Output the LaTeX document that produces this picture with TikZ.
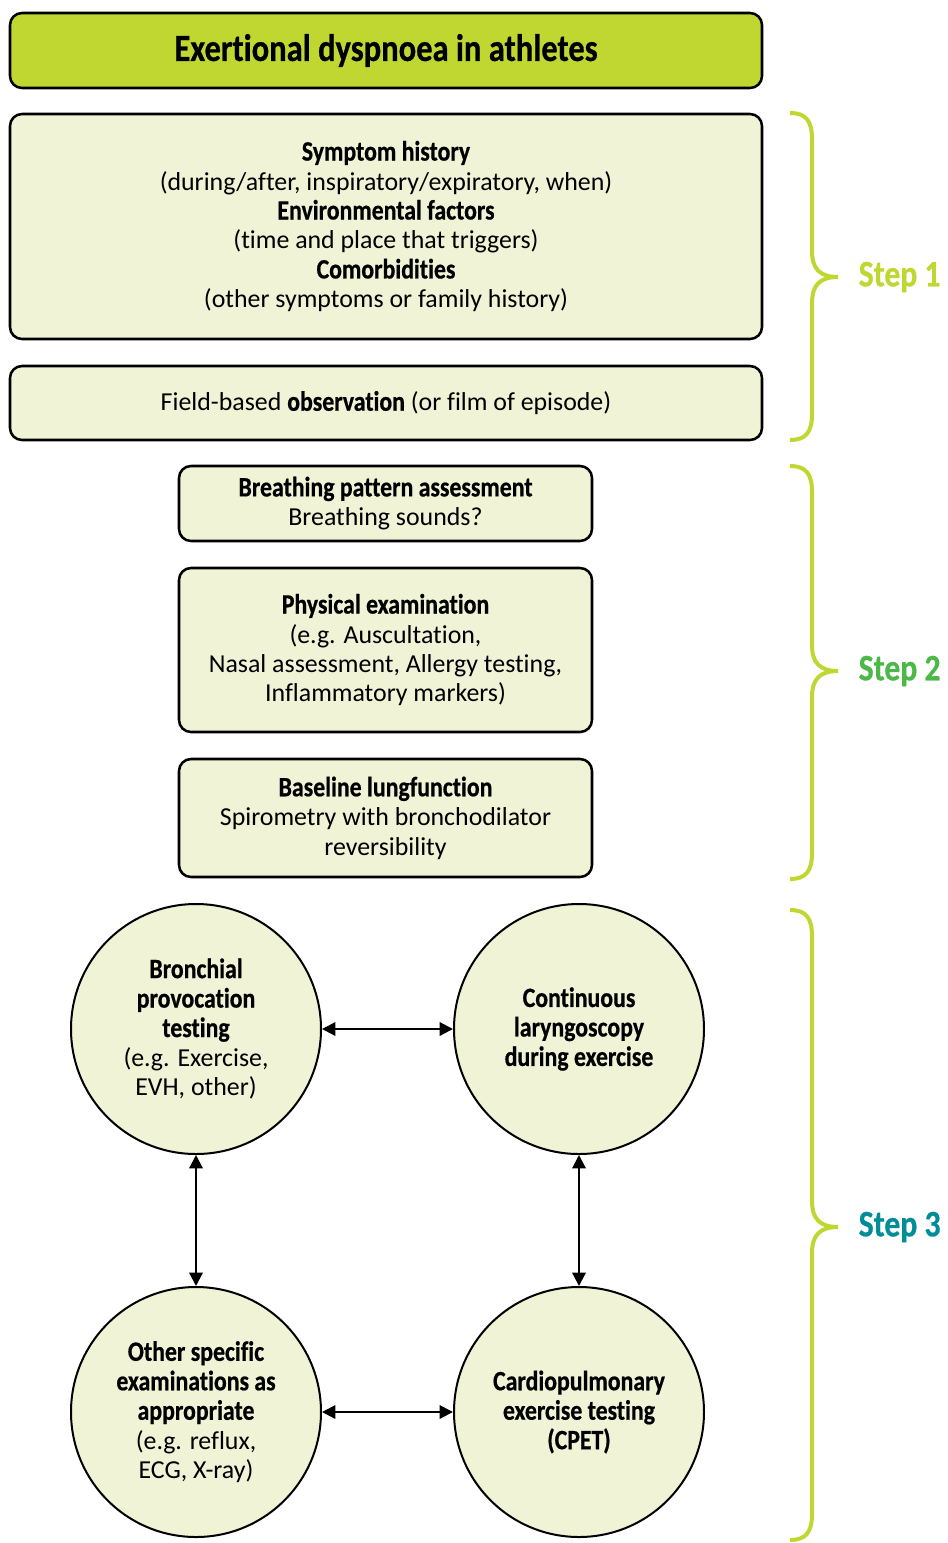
\documentclass[tikz,border=0pt]{standalone}
\usepackage{fontspec}
\setmainfont{Carlito}[Ligatures=NoCommon]
\newfontfamily\cbf{Carlito}[FakeStretch=0.85,Ligatures=NoCommon,BoldFeatures={FakeBold=0.6}]
\usetikzlibrary{arrows.meta}
\definecolor{lime}{HTML}{BFD730}
\definecolor{pale}{HTML}{F0F3D6}
\definecolor{stepgreen}{HTML}{4CB848}
\definecolor{stepteal}{HTML}{008D97}
\newcommand\hb[1]{{\fontsize{21}{22.1}\cbf\bfseries #1}}
\newcommand\stepbrace[3]{%
  \draw[lime, line width=3pt, line cap=butt]
    (790,#1) .. controls (806,#1) and (812,#1+8) .. (812,#1+26)
    -- (812,#2-26) .. controls (812,#2-8) and (820,#2) .. (838,#2)
    .. controls (820,#2) and (812,#2+8) .. (812,#2+26)
    -- (812,#3-26) .. controls (812,#3-8) and (806,#3) .. (790,#3);}
\begin{document}
\begin{tikzpicture}[x=0.75pt,y=-0.75pt,
  box/.style={draw=black, line width=1.9pt, fill=pale, rounded corners=9pt,
    align=center, inner sep=0pt, font=\fontsize{19.4}{22.1}\selectfont},
  circ/.style={circle, draw=black, line width=1.5pt, fill=pale, minimum size=187.5pt,
    inner sep=0pt, align=center, font=\fontsize{19.4}{22.1}\selectfont},
  steplabel/.style={anchor=west, font=\fontsize{28}{30}\selectfont\cbf\bfseries},
  arr/.style={line width=1.6pt, {Triangle[length=10pt,width=10pt]}-{Triangle[length=10pt,width=10pt]}}]
\useasboundingbox (0,0) rectangle (947,1543);

\node[box, fill=lime, minimum width=564pt, minimum height=56.25pt] (title) at (386,50.5)
  {{\fontsize{28.7}{30}\cbf\bfseries Exertional dyspnoea in athletes}};

\node[box, minimum width=564pt, minimum height=168.75pt] (hist) at (386,226.5)
  {\hb{Symptom history}\\(during/after, inspiratory/expiratory, when)\\
   \hb{Environmental factors}\\(time and place that triggers)\\
   \hb{Comorbidities}\\(other symptoms or family history)};

\node[box, minimum width=564pt, minimum height=55.5pt] (obs) at (386,403)
  {Field-based \hb{observation} (or film of episode)};

\node[box, minimum width=309.75pt, minimum height=56.25pt] (bpa) at (385.5,503.5)
  {\hb{Breathing pattern assessment}\\Breathing sounds?};

\node[box, minimum width=309.75pt, minimum height=123pt] (phys) at (385.5,650)
  {\hb{Physical examination}\\(e.g. Auscultation,\\Nasal assessment, Allergy testing,\\Inflammatory markers)};

\node[box, minimum width=309.75pt, minimum height=88.5pt] (lung) at (385.5,818)
  {\hb{Baseline lungfunction}\\Spirometry with bronchodilator\\reversibility};

\node[circ] (bpt) at (196,1029)
  {\hb{Bronchial}\\\hb{provocation}\\\hb{testing}\\(e.g. Exercise,\\EVH, other)};
\node[circ] (cle) at (579,1029)
  {\hb{Continuous}\\\hb{laryngoscopy}\\\hb{during exercise}};
\node[circ] (ose) at (196,1412)
  {\hb{Other specific}\\\hb{examinations as}\\\hb{appropriate}\\(e.g. reflux,\\ECG, X-ray)};
\node[circ] (cpet) at (579,1412)
  {\hb{Cardiopulmonary}\\\hb{exercise testing}\\\hb{(CPET)}};

\draw[arr] (bpt) -- (cle);
\draw[arr] (bpt) -- (ose);
\draw[arr] (cle) -- (cpet);
\draw[arr] (ose) -- (cpet);

\stepbrace{113}{277}{440}
\stepbrace{466}{671}{879}
\stepbrace{910}{1227}{1540}
\node[steplabel, text=lime] (s1) at (854,277) {Step 1};
\node[steplabel, text=stepgreen] (s2) at (854,671) {Step 2};
\node[steplabel, text=stepteal] (s3) at (854,1227) {Step 3};
\end{tikzpicture}
\end{document}
